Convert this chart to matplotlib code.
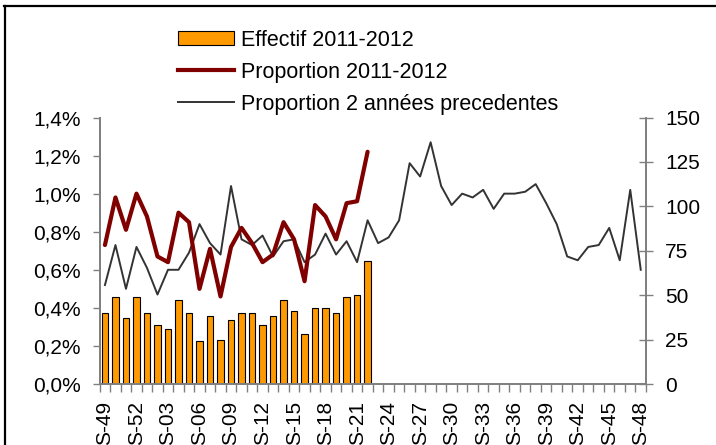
import matplotlib
matplotlib.use("Agg")
import matplotlib.pyplot as plt
from matplotlib.lines import Line2D
from matplotlib.patches import Patch
from matplotlib.ticker import FuncFormatter

plt.rcParams['font.family'] = ['Liberation Sans', 'DejaVu Sans']

# semaines S-49 .. S-48
weeks = ['S-49', 'S-50', 'S-51', 'S-52'] + ['S-%02d' % w for w in range(1, 49)]

# Effectif 2011-2012 (axe droit), semaines S-49 .. S-22
effectif = [40, 49, 37, 49, 40, 33, 31, 47, 40, 24, 38, 25, 36, 40, 40, 33,
            38, 47, 41, 28, 43, 43, 40, 49, 50, 69]

# Proportion 2011-2012 (%)
prop_2011 = [0.73, 0.98, 0.81, 1.00, 0.88, 0.67, 0.64, 0.90, 0.85, 0.50, 0.71,
             0.46, 0.72, 0.82, 0.74, 0.64, 0.68, 0.85, 0.76, 0.54, 0.94, 0.88,
             0.76, 0.95, 0.96, 1.22]

# Proportion 2 annees precedentes (%)
prop_prev = [0.52, 0.73, 0.50, 0.72, 0.61, 0.47, 0.60, 0.60, 0.69, 0.84, 0.74,
             0.68, 1.04, 0.76, 0.73, 0.78, 0.67, 0.75, 0.76, 0.64, 0.68, 0.79,
             0.68, 0.75, 0.64, 0.86, 0.74, 0.77, 0.86, 1.16, 1.09, 1.27, 1.04,
             0.94, 1.00, 0.98, 1.02, 0.92, 1.00, 1.00, 1.01, 1.05, 0.95, 0.84,
             0.67, 0.65, 0.72, 0.73, 0.82, 0.65, 1.02, 0.60]

orange = '#FF9900'
dark_red = '#800000'
grey_line = '#333333'
spine_grey = '#808080'
fs = 15

W, H = 716, 445
fig = plt.figure(figsize=(W / 100, H / 100), dpi=100)
ax = fig.add_axes([99.7 / W, 1 - 384 / H, (646 - 99.7) / W, (384 - 117.5) / H])
ax2 = ax.twinx()

# bars on the primary axes, scale on the right
x_bar = list(range(len(effectif)))
ax.bar(x_bar, effectif, width=0.63, color=orange, edgecolor='black', linewidth=0.8, zorder=2)
ax.set_ylim(0, 150)
ax.set_yticks(range(0, 151, 25))

ax.set_xlim(-0.5, len(weeks) - 0.5)
ax.set_xticks(range(0, len(weeks), 3))
ax.set_xticklabels(weeks[::3], rotation=90, fontsize=fs)
ax.set_xticks([i - 0.5 for i in range(len(weeks) + 1)], minor=True)
ax.tick_params(axis='x', which='major', length=0, pad=12)
ax.tick_params(axis='x', which='minor', length=6, width=1, color=spine_grey, direction='out')

# lines on the twin axes, scale on the left
ax2.plot(range(len(prop_prev)), [v / 100 for v in prop_prev], color=grey_line, lw=1.4, zorder=3)
ax2.plot(range(len(prop_2011)), [v / 100 for v in prop_2011], color=dark_red, lw=3, zorder=4,
         solid_capstyle='round')
ax2.set_ylim(0, 0.014)
ax2.set_yticks([i * 0.002 for i in range(8)])
ax2.yaxis.set_major_formatter(FuncFormatter(lambda v, p: ('%.1f%%' % (v * 100)).replace('.', ',')))

# swap sides: counts on the right, percentages on the left
ax.yaxis.tick_right()
ax2.yaxis.tick_left()
ax.tick_params(axis='y', direction='inout', length=10, width=1, color=spine_grey,
               labelsize=fs, pad=8.8, left=False, labelleft=False, right=True, labelright=True)
ax2.tick_params(axis='y', direction='out', length=5, width=1, color=spine_grey,
                labelsize=fs, pad=8.4, right=False, labelright=False, left=True, labelleft=True)

for a in (ax, ax2):
    a.spines['top'].set_visible(False)
    for s in ('left', 'right', 'bottom'):
        a.spines[s].set_color(spine_grey)
        a.spines[s].set_linewidth(1.3)

handles = [Patch(facecolor=orange, edgecolor='black', linewidth=0.8),
           Line2D([], [], color=dark_red, lw=3),
           Line2D([], [], color=grey_line, lw=1.4)]
labels = ['Effectif 2011-2012', 'Proportion 2011-2012', 'Proportion 2 années precedentes']
fig.legend(handles, labels, loc='upper left', bbox_to_anchor=(178 / W, 1 - 30 / H),
           frameon=False, fontsize=15.5, borderpad=0, borderaxespad=0,
           handlelength=2.6, handleheight=0.63, handletextpad=0.33, labelspacing=0.5)

# frame around the chart
fig.add_artist(Line2D([5 / W, 5 / W], [0, 1 - 5.5 / H], color='black', lw=1.6))
fig.add_artist(Line2D([4 / W, 1], [1 - 5.5 / H, 1 - 5.5 / H], color='black', lw=1.6))

fig.savefig('out.png', dpi=100)
